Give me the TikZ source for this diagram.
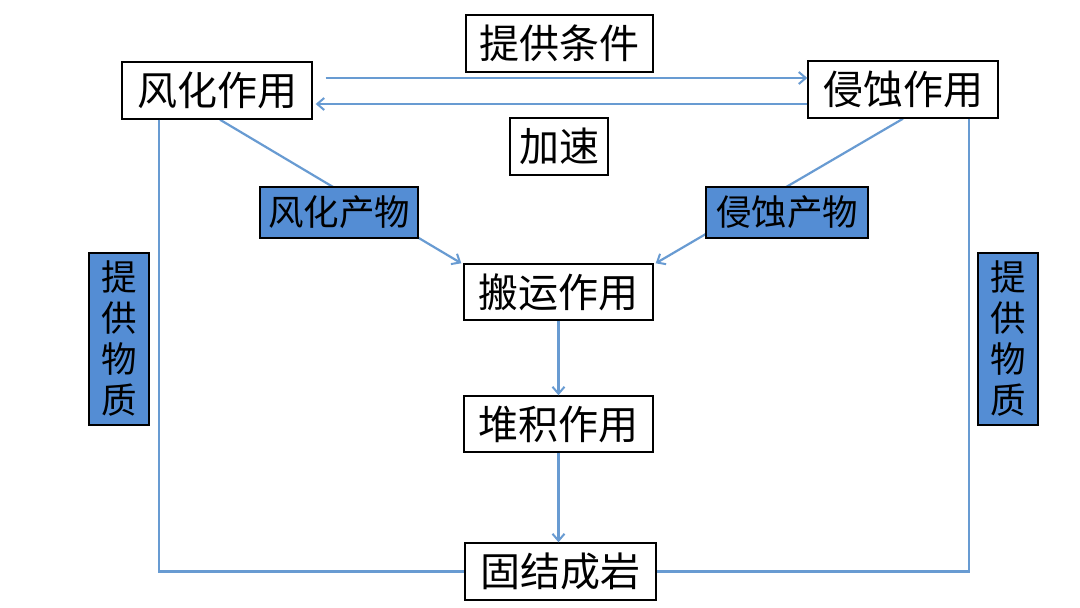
\documentclass[tikz,border=0pt]{standalone}
\usepackage{fontspec}
\setmainfont{Noto Sans CJK SC}
\usetikzlibrary{arrows.meta,backgrounds,calc}
\definecolor{ln}{RGB}{104,155,210}
\definecolor{bf}{RGB}{84,141,212}
\begin{document}
\begin{tikzpicture}[x=1pt,y=-1pt,
  wbox/.style={draw=black,line width=1.4pt,fill=white,inner sep=0pt,minimum height=57pt,font=\fontsize{40}{42}\selectfont},
  bbox/.style={draw=black,line width=1.4pt,fill=bf,inner sep=0pt,font=\fontsize{35.5}{41}\selectfont},
  conn/.style={draw=ln,line width=2.2pt},
  arr/.style={conn,-{Straight Barb[length=7pt,width=12pt,line width=2pt]}}]
\useasboundingbox (0,0) rectangle (1080,608);
% nodes
\node[wbox,minimum width=190pt] (wf) at (217,90.5) {风化作用};
\node[wbox,minimum width=190pt] (qs) at (903,89.5) {侵蚀作用};
\node[wbox,minimum width=187pt] (tj) at (559.5,43.5) {提供条件};
\node[wbox,minimum width=98pt] (js) at (559,146.5) {加速};
\node[bbox,minimum width=158pt,minimum height=51pt] (wc) at (339,212.5) {风化产物};
\node[bbox,minimum width=162pt,minimum height=51pt] (qc) at (787,212.5) {侵蚀产物};
\node[wbox,minimum width=189pt,minimum height=56pt] (by) at (558.5,292) {搬运作用};
\node[wbox,minimum width=189pt,minimum height=56pt] (dj) at (558.5,424) {堆积作用};
\node[wbox,minimum width=191pt] (gj) at (560.5,571.5) {固结成岩};
\node[bbox,minimum width=60pt,minimum height=172pt,align=center] (tl) at (119,339) {提\\供\\物\\质};
\node[bbox,minimum width=60pt,minimum height=172pt,align=center] (tr) at (1008,339) {提\\供\\物\\质};
% coordinates
\coordinate (a1s) at ($(wf.east)+(13,-12.5)$);
\coordinate (a2e) at ($(wf.east)+(3,13.5)$);
\coordinate (wfb) at ($(wf.south)+(3,0)$);
\coordinate (qsb) at ($(qs.south)+(0,0)$);
\coordinate (byl) at ($(by.north west)+(-2,0)$);
\coordinate (byr) at ($(by.north east)+(2,0)$);
\coordinate (wfl) at ($(wf.south west)+(38,0)$);
\coordinate (qsr) at ($(qs.south east)+(-30,0)$);
% connectors
\draw[arr] (a1s) -- (a1s -| qs.west);
\draw[arr] (a2e -| qs.west) -- (a2e);
\begin{scope}[on background layer]
\fill[white] (0,0) rectangle (1080,608);
\draw[arr] (wfb) -- (byl);
\draw[arr] (qsb) -- (byr);
\end{scope}
\draw[arr] (by.south) -- (dj.north);
\draw[arr] (dj.south) -- (gj.north -| dj.south);
\draw[conn] (wfl) |- (gj.west);
\draw[conn] (qsr) |- (gj.east);
\end{tikzpicture}
\end{document}
